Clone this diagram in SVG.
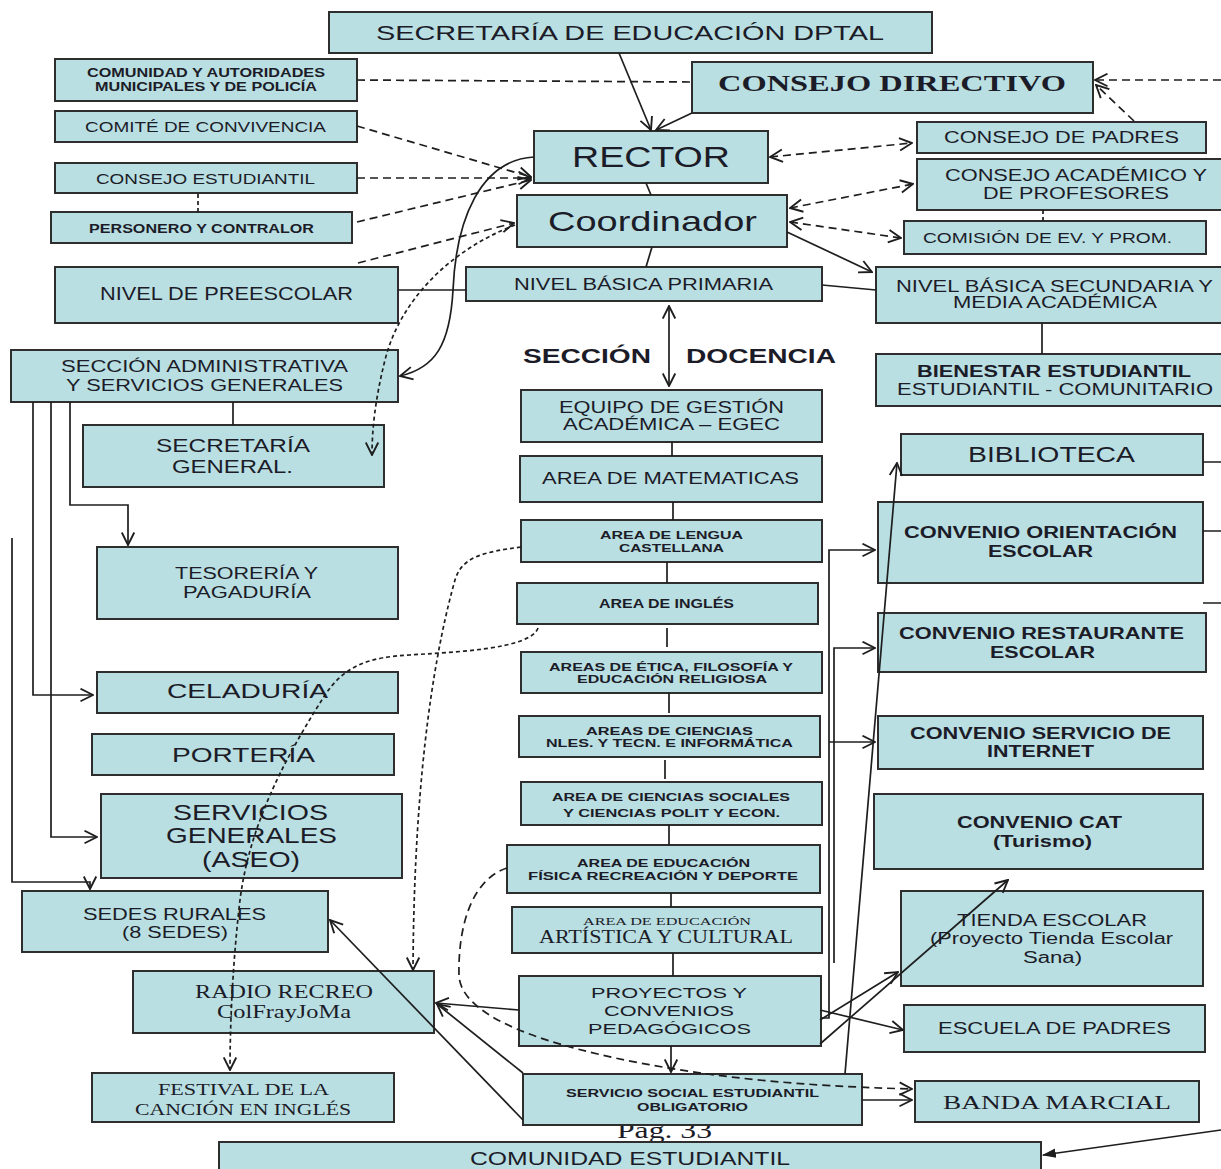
<svg xmlns="http://www.w3.org/2000/svg" width="1221" height="1169" viewBox="0 0 1221 1169">
<style>
.n rect{fill:#b9dfe3;stroke:#2e2e2e;stroke-width:2}
text{font-family:"Liberation Sans",Arial,sans-serif;fill:#1c1c28}
.b{font-weight:bold}
.s{font-family:"Liberation Serif","Times New Roman",serif}
.c path,.c line{fill:none;stroke:#1e1e1e;stroke-width:1.7}
.c .d{stroke-dasharray:8,5}
.c .o{stroke-dasharray:4,3}
</style>
<defs>
<marker id="a" viewBox="0 0 12 12" refX="11" refY="6" markerWidth="15" markerHeight="15" markerUnits="userSpaceOnUse" orient="auto-start-reverse"><path d="M1,1 L11,6 L1,11" fill="none" stroke="#1e1e1e" stroke-width="1.5"/></marker>
<marker id="f" viewBox="0 0 12 12" refX="11" refY="6" markerWidth="14" markerHeight="14" markerUnits="userSpaceOnUse" orient="auto"><path d="M0,2 L12,6 L0,10 Z" fill="#1e1e1e"/></marker>
</defs>
<rect width="1221" height="1169" fill="#ffffff"/>
<text class="s" x="617" y="1138" font-size="24" textLength="95" lengthAdjust="spacingAndGlyphs">Pag. 33</text>

<g id="sec_edu" class="n"><rect x="329" y="12" width="603" height="41"/><text x="376" y="40" font-size="21" textLength="508" lengthAdjust="spacingAndGlyphs">SECRETARÍA DE EDUCACIÓN DPTAL</text></g>
<g id="comunidad" class="n"><rect x="55" y="59" width="302" height="42"/><text class="b" x="87" y="77" font-size="12" textLength="238" lengthAdjust="spacingAndGlyphs">COMUNIDAD Y AUTORIDADES</text><text class="b" x="95" y="91" font-size="12" textLength="222" lengthAdjust="spacingAndGlyphs">MUNICIPALES Y DE POLICÍA</text></g>
<g id="comite" class="n"><rect x="55" y="111" width="302" height="31"/><text x="85" y="132" font-size="15" textLength="241" lengthAdjust="spacingAndGlyphs">COMITÉ DE CONVIVENCIA</text></g>
<g id="consejo_est" class="n"><rect x="55" y="163" width="302" height="30"/><text x="96" y="184" font-size="15" textLength="219" lengthAdjust="spacingAndGlyphs">CONSEJO ESTUDIANTIL</text></g>
<g id="personero" class="n"><rect x="51" y="212" width="301" height="31"/><text class="b" x="89" y="233" font-size="12.5" textLength="225" lengthAdjust="spacingAndGlyphs">PERSONERO Y CONTRALOR</text></g>
<g id="preescolar" class="n"><rect x="55" y="267" width="343" height="56"/><text x="100" y="300" font-size="18" textLength="253" lengthAdjust="spacingAndGlyphs">NIVEL DE PREESCOLAR</text></g>
<g id="consejo_dir" class="n"><rect x="692" y="62" width="401" height="51"/><text class="s b" x="718" y="91" font-size="24" textLength="348" lengthAdjust="spacingAndGlyphs">CONSEJO DIRECTIVO</text></g>
<g id="rector" class="n"><rect x="534" y="131" width="234" height="52"/><text x="572" y="167" font-size="29" textLength="158" lengthAdjust="spacingAndGlyphs">RECTOR</text></g>
<g id="coordinador" class="n"><rect x="517" y="195" width="270" height="52"/><text x="548" y="231" font-size="28" textLength="209" lengthAdjust="spacingAndGlyphs">Coordinador</text></g>
<g id="basica_prim" class="n"><rect x="466" y="267" width="356" height="34"/><text x="514" y="290" font-size="16" textLength="259" lengthAdjust="spacingAndGlyphs">NIVEL BÁSICA PRIMARIA</text></g>
<g id="padres" class="n"><rect x="917" y="122" width="289" height="31"/><text x="944" y="143" font-size="16" textLength="235" lengthAdjust="spacingAndGlyphs">CONSEJO DE PADRES</text></g>
<g id="academico" class="n"><rect x="917" y="159" width="306" height="51"/><text x="945" y="181" font-size="16" textLength="262" lengthAdjust="spacingAndGlyphs">CONSEJO ACADÉMICO Y</text><text x="983" y="199" font-size="16" textLength="186" lengthAdjust="spacingAndGlyphs">DE PROFESORES</text></g>
<g id="comision" class="n"><rect x="904" y="221" width="302" height="33"/><text x="923" y="243" font-size="14" textLength="249" lengthAdjust="spacingAndGlyphs">COMISIÓN DE EV. Y PROM.</text></g>
<g id="secundaria" class="n"><rect x="876" y="267" width="347" height="56"/><text x="896" y="292" font-size="16" textLength="317" lengthAdjust="spacingAndGlyphs">NIVEL BÁSICA SECUNDARIA Y</text><text x="953" y="308" font-size="16" textLength="204" lengthAdjust="spacingAndGlyphs">MEDIA ACADÉMICA</text></g>
<g id="bienestar" class="n"><rect x="876" y="354" width="347" height="52"/><text class="b" x="917" y="377" font-size="16" textLength="274" lengthAdjust="spacingAndGlyphs">BIENESTAR ESTUDIANTIL</text><text x="897" y="395" font-size="16" textLength="316" lengthAdjust="spacingAndGlyphs">ESTUDIANTIL - COMUNITARIO</text></g>
<g id="seccion_admin" class="n"><rect x="11" y="350" width="387" height="52"/><text x="61" y="372" font-size="16" textLength="287" lengthAdjust="spacingAndGlyphs">SECCIÓN ADMINISTRATIVA</text><text x="66" y="391" font-size="16" textLength="277" lengthAdjust="spacingAndGlyphs">Y SERVICIOS GENERALES</text></g>
<g id="secretaria_gen" class="n"><rect x="83" y="425" width="301" height="62"/><text x="156" y="452" font-size="18" textLength="154" lengthAdjust="spacingAndGlyphs">SECRETARÍA</text><text x="172" y="473" font-size="18" textLength="121" lengthAdjust="spacingAndGlyphs">GENERAL.</text></g>
<g id="tesoreria" class="n"><rect x="97" y="547" width="301" height="72"/><text x="175" y="579" font-size="16" textLength="143" lengthAdjust="spacingAndGlyphs">TESORERÍA Y</text><text x="183" y="598" font-size="16" textLength="128" lengthAdjust="spacingAndGlyphs">PAGADURÍA</text></g>
<g id="celaduria" class="n"><rect x="97" y="672" width="301" height="41"/><text x="167" y="698" font-size="21" textLength="161" lengthAdjust="spacingAndGlyphs">CELADURÍA</text></g>
<g id="porteria" class="n"><rect x="92" y="734" width="302" height="41"/><text x="172" y="762" font-size="21" textLength="143" lengthAdjust="spacingAndGlyphs">PORTERÍA</text></g>
<g id="servicios" class="n"><rect x="101" y="794" width="301" height="84"/><text x="173" y="820" font-size="22" textLength="155" lengthAdjust="spacingAndGlyphs">SERVICIOS</text><text x="166" y="843" font-size="22" textLength="171" lengthAdjust="spacingAndGlyphs">GENERALES</text><text x="202" y="867" font-size="22" textLength="98" lengthAdjust="spacingAndGlyphs">(ASEO)</text></g>
<g id="sedes" class="n"><rect x="22" y="891" width="306" height="61"/><text x="83" y="920" font-size="16" textLength="183" lengthAdjust="spacingAndGlyphs">SEDES RURALES</text><text x="122" y="938" font-size="16" textLength="106" lengthAdjust="spacingAndGlyphs">(8 SEDES)</text></g>
<g id="radio" class="n"><rect x="133" y="971" width="301" height="62"/><text class="s" x="195" y="998" font-size="19" textLength="178" lengthAdjust="spacingAndGlyphs">RADIO RECREO</text><text class="s" x="217" y="1018" font-size="19" textLength="134" lengthAdjust="spacingAndGlyphs">ColFrayJoMa</text></g>
<g id="festival" class="n"><rect x="92" y="1073" width="302" height="49"/><text class="s" x="158" y="1095" font-size="17" textLength="171" lengthAdjust="spacingAndGlyphs">FESTIVAL DE LA</text><text class="s" x="135" y="1115" font-size="17" textLength="216" lengthAdjust="spacingAndGlyphs">CANCIÓN EN INGLÉS</text></g>
<g id="comunidad_est" class="n"><rect x="219" y="1142" width="822" height="40"/><text x="470" y="1165" font-size="18" textLength="320" lengthAdjust="spacingAndGlyphs">COMUNIDAD  ESTUDIANTIL</text></g>
<g id="egec" class="n"><rect x="521" y="390" width="301" height="52"/><text x="559" y="413" font-size="16" textLength="225" lengthAdjust="spacingAndGlyphs">EQUIPO DE GESTIÓN</text><text x="563" y="430" font-size="16" textLength="217" lengthAdjust="spacingAndGlyphs">ACADÉMICA – EGEC</text></g>
<g id="matematicas" class="n"><rect x="520" y="456" width="302" height="46"/><text x="542" y="484" font-size="16" textLength="257" lengthAdjust="spacingAndGlyphs">AREA DE MATEMATICAS</text></g>
<g id="lengua" class="n"><rect x="521" y="520" width="301" height="42"/><text class="b" x="600" y="539" font-size="11" textLength="143" lengthAdjust="spacingAndGlyphs">AREA DE LENGUA</text><text class="b" x="619" y="552" font-size="11" textLength="105" lengthAdjust="spacingAndGlyphs">CASTELLANA</text></g>
<g id="ingles" class="n"><rect x="517" y="583" width="301" height="41"/><text class="b" x="599" y="608" font-size="12" textLength="135" lengthAdjust="spacingAndGlyphs">AREA DE INGLÉS</text></g>
<g id="etica" class="n"><rect x="521" y="652" width="301" height="41"/><text class="b" x="549" y="671" font-size="11" textLength="244" lengthAdjust="spacingAndGlyphs">AREAS DE ÉTICA, FILOSOFÍA Y</text><text class="b" x="577" y="683" font-size="11" textLength="190" lengthAdjust="spacingAndGlyphs">EDUCACIÓN RELIGIOSA</text></g>
<g id="ciencias" class="n"><rect x="519" y="716" width="301" height="41"/><text class="b" x="586" y="735" font-size="11" textLength="167" lengthAdjust="spacingAndGlyphs">AREAS DE  CIENCIAS</text><text class="b" x="546" y="747" font-size="11" textLength="247" lengthAdjust="spacingAndGlyphs">NLES. Y TECN. E INFORMÁTICA</text></g>
<g id="sociales" class="n"><rect x="521" y="782" width="301" height="43"/><text class="b" x="552" y="801" font-size="11.5" textLength="238" lengthAdjust="spacingAndGlyphs">AREA DE CIENCIAS SOCIALES</text><text class="b" x="563" y="817" font-size="11.5" textLength="217" lengthAdjust="spacingAndGlyphs">Y CIENCIAS POLIT Y ECON.</text></g>
<g id="fisica" class="n"><rect x="507" y="845" width="313" height="48"/><text class="b" x="577" y="867" font-size="11" textLength="173" lengthAdjust="spacingAndGlyphs">AREA DE EDUCACIÓN</text><text class="b" x="528" y="880" font-size="11.5" textLength="270" lengthAdjust="spacingAndGlyphs">FÍSICA  RECREACIÓN Y DEPORTE</text></g>
<g id="artistica" class="n"><rect x="512" y="907" width="310" height="46"/><text class="s" x="583" y="925" font-size="11" textLength="168" lengthAdjust="spacingAndGlyphs">AREA DE EDUCACIÓN</text><text class="s" x="539" y="943" font-size="18" textLength="254" lengthAdjust="spacingAndGlyphs">ARTÍSTICA Y CULTURAL</text></g>
<g id="proyectos" class="n"><rect x="519" y="976" width="302" height="70"/><text x="591" y="998" font-size="15.5" textLength="156" lengthAdjust="spacingAndGlyphs">PROYECTOS Y</text><text x="604" y="1016" font-size="15.5" textLength="130" lengthAdjust="spacingAndGlyphs">CONVENIOS</text><text x="588" y="1034" font-size="15.5" textLength="163" lengthAdjust="spacingAndGlyphs">PEDAGÓGICOS</text></g>
<g id="sseo" class="n"><rect x="523" y="1074" width="339" height="51"/><text class="b" x="566" y="1097" font-size="11" textLength="253" lengthAdjust="spacingAndGlyphs">SERVICIO SOCIAL ESTUDIANTIL</text><text class="b" x="637" y="1111" font-size="11" textLength="111" lengthAdjust="spacingAndGlyphs">OBLIGATORIO</text></g>
<g id="biblioteca" class="n"><rect x="901" y="434" width="302" height="41"/><text x="968" y="462" font-size="22" textLength="167" lengthAdjust="spacingAndGlyphs">BIBLIOTECA</text></g>
<g id="orientacion" class="n"><rect x="878" y="502" width="325" height="81"/><text class="b" x="904" y="538" font-size="16" textLength="273" lengthAdjust="spacingAndGlyphs">CONVENIO ORIENTACIÓN</text><text class="b" x="988" y="557" font-size="16" textLength="105" lengthAdjust="spacingAndGlyphs">ESCOLAR</text></g>
<g id="restaurante" class="n"><rect x="878" y="613" width="328" height="59"/><text class="b" x="899" y="639" font-size="16" textLength="285" lengthAdjust="spacingAndGlyphs">CONVENIO RESTAURANTE</text><text class="b" x="990" y="658" font-size="16" textLength="105" lengthAdjust="spacingAndGlyphs">ESCOLAR</text></g>
<g id="internet" class="n"><rect x="878" y="716" width="325" height="53"/><text class="b" x="910" y="739" font-size="16" textLength="261" lengthAdjust="spacingAndGlyphs">CONVENIO SERVICIO DE</text><text class="b" x="987" y="757" font-size="16" textLength="107" lengthAdjust="spacingAndGlyphs">INTERNET</text></g>
<g id="cat" class="n"><rect x="874" y="794" width="329" height="75"/><text class="b" x="957" y="828" font-size="16" textLength="165" lengthAdjust="spacingAndGlyphs">CONVENIO CAT</text><text class="b" x="993" y="847" font-size="16" textLength="99" lengthAdjust="spacingAndGlyphs">(Turismo)</text></g>
<g id="tienda" class="n"><rect x="901" y="891" width="302" height="95"/><text x="957" y="926" font-size="16" textLength="190" lengthAdjust="spacingAndGlyphs">TIENDA ESCOLAR</text><text x="930" y="944" font-size="16" textLength="243" lengthAdjust="spacingAndGlyphs">(Proyecto Tienda Escolar</text><text x="1023" y="963" font-size="16" textLength="59" lengthAdjust="spacingAndGlyphs">Sana)</text></g>
<g id="escuela" class="n"><rect x="904" y="1005" width="301" height="47"/><text x="938" y="1034" font-size="16" textLength="233" lengthAdjust="spacingAndGlyphs">ESCUELA DE PADRES</text></g>
<g id="banda" class="n"><rect x="915" y="1081" width="284" height="41"/><text class="s" x="943" y="1109" font-size="19" textLength="228" lengthAdjust="spacingAndGlyphs">BANDA MARCIAL</text></g>
<g id="seccion_docencia"><text class="b" x="523" y="363" font-size="20" textLength="128" lengthAdjust="spacingAndGlyphs">SECCIÓN</text><text class="b" x="686" y="363" font-size="20" textLength="150" lengthAdjust="spacingAndGlyphs">DOCENCIA</text></g>

<g id="connectors" class="c">
<path d="M619,53 L651,130" marker-end="url(#a)"/>
<path d="M692,113 L656,130" marker-end="url(#a)"/>
<path d="M646,183 L651,195"/>
<path d="M652,247 L646,267"/>
<path d="M398,290 L466,290"/>
<path d="M822,285 L876,290"/>
<path d="M787,232 L872,272" marker-end="url(#a)"/>
<path d="M534,157 C480,160 456,220 453,290 C450,345 435,368 400,376" marker-end="url(#a)"/>
<path d="M669,306 L669,386" marker-start="url(#a)" marker-end="url(#a)"/>
<path d="M233,402 V425"/>
<path d="M1042,323 V354"/>
<path d="M70,402 V505 H128 V545" marker-end="url(#a)"/>
<path d="M33,402 V695 H93" marker-end="url(#a)"/>
<path d="M51,402 V837 H97" marker-end="url(#a)"/>
<path d="M12,538 V882 H90 V889" marker-end="url(#a)"/>
<path d="M672,442 V456 M673,502 V520 M667,562 V583 M667,628 V647 M669,693 V713 M665,760 V779 M669,825 V845 M671,893 V907 M673,953 V976"/>
<path d="M671,1046 V1072" marker-end="url(#a)"/>
<path d="M519,1010 L436,1003" marker-end="url(#a)"/>
<path d="M523,1073 L437,1004" marker-end="url(#a)"/>
<path d="M523,1120 L330,920" marker-end="url(#a)"/>
<path d="M862,1100 L912,1100" marker-end="url(#a)"/>
<path d="M845,1074 L897,463" marker-end="url(#a)"/>
<path d="M821,1018 H829 V550 H875" marker-end="url(#a)"/>
<path d="M829,742 H875" marker-end="url(#a)"/>
<path d="M834,963 V648 H875" marker-end="url(#a)"/>
<path d="M820,1020 L898,972" marker-end="url(#a)"/>
<path d="M820,1044 L1008,880" marker-end="url(#a)"/>
<path d="M820,1010 L903,1030" marker-end="url(#a)"/>
<path d="M1221,1130 L1043,1155" marker-end="url(#f)"/>
<path d="M1203,462 H1221 M1203,531 H1221 M1203,603 H1221"/>
<path class="d" d="M357,80 L692,82"/>
<path class="d" d="M357,126 L531,177" marker-end="url(#a)"/>
<path class="d" d="M357,178 L531,178" marker-end="url(#a)"/>
<path class="d" d="M357,222 L531,180" marker-end="url(#a)"/>
<path class="d" d="M358,263 L514,223" marker-end="url(#a)"/>
<path class="d" d="M770,157 L912,143" marker-start="url(#a)" marker-end="url(#a)"/>
<path class="d" d="M790,208 L913,184" marker-start="url(#a)" marker-end="url(#a)"/>
<path class="d" d="M790,222 L901,238" marker-start="url(#a)" marker-end="url(#a)"/>
<path class="d" d="M1134,121 L1096,85" marker-end="url(#a)"/>
<path class="d" d="M1221,80 L1095,80" marker-end="url(#a)"/>
<path class="o" d="M198,194 V212 M1043,210 V221"/>
<path class="o" d="M515,225 C450,250 400,300 385,360 C375,400 372,430 372,455" marker-end="url(#a)"/>
<path class="o" d="M521,547 C485,552 462,556 455,580 C438,640 414,760 413,970" marker-end="url(#a)"/>
<path class="o" d="M538,628 C530,650 450,652 410,655 C370,657 345,665 325,695 C290,750 250,820 240,900 C233,960 230,1020 230,1070" marker-end="url(#a)"/>
<path class="d" d="M507,868 C470,880 458,930 459,975 C460,1010 520,1040 640,1063 C720,1078 800,1086 912,1089" marker-end="url(#a)"/>
</g>
</svg>
